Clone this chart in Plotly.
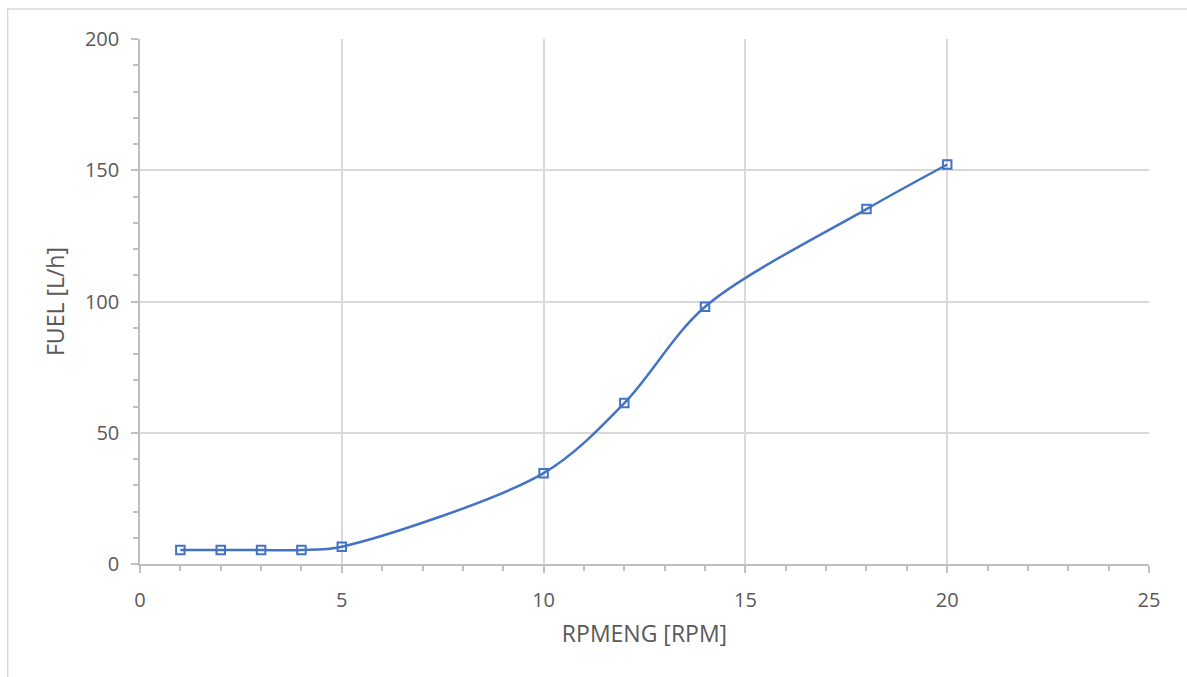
import plotly.graph_objects as go

rpm = [1, 2, 3, 4, 5, 10, 12, 14, 18, 20]
fuel = [5.3, 5.3, 5.3, 5.3, 6.6, 34.6, 61.3, 98.0, 135.2, 152.2]

x_title = "RPMENG [RPM]"
y_title = "FUEL [L/h]"

blue = "#4472C4"
grid = "#D9D9D9"
axis = "#BFBFBF"
txt = "#595959"
font = "Open Sans"

fig = go.Figure()
fig.add_trace(go.Scatter(
    x=rpm, y=fuel, mode="lines+markers",
    line=dict(color=blue, width=2.5, shape="spline", smoothing=0.9),
    marker=dict(symbol="square-open", size=8.5, color=blue, line=dict(width=2, color=blue)),
    showlegend=False, hoverinfo="x+y",
))

fig.update_layout(
    width=1187, height=677,
    margin=dict(l=139.5, r=37.7, t=39, b=113),
    paper_bgcolor="white", plot_bgcolor="white",
    font=dict(family=font, size=20, color=txt),
    shapes=[dict(type="rect", xref="paper", yref="paper",
                 x0=-0.1312, x1=1.2, y0=-0.5, y1=1.0571,
                 line=dict(color=grid, width=1.5), layer="below")],
)
fig.update_xaxes(
    range=[0, 25], dtick=5, tick0=0,
    showgrid=True, gridcolor=grid, gridwidth=1.5,
    showline=True, linecolor=axis, linewidth=1.5,
    ticks="outside", ticklen=7, tickcolor=axis, tickwidth=1.5,
    minor=dict(dtick=1, ticks="outside", ticklen=5, tickcolor=axis, tickwidth=1.5, showgrid=False),
    zeroline=False, ticklabelstandoff=10,
    title=dict(text=x_title, font=dict(size=23, color=txt), standoff=14),
    fixedrange=True,
)
fig.update_yaxes(
    range=[0, 200], dtick=50, tick0=0,
    showgrid=True, gridcolor=grid, gridwidth=1.5,
    showline=True, linecolor=axis, linewidth=1.5,
    ticks="outside", ticklen=7, tickcolor=axis, tickwidth=1.5,
    minor=dict(dtick=10, ticks="outside", ticklen=5, tickcolor=axis, tickwidth=1.5, showgrid=False),
    zeroline=False, ticklabelstandoff=8,
    title=dict(text=y_title, font=dict(size=23, color=txt), standoff=14),
    fixedrange=True,
)

fig.write_html("out.html", config=dict(displayModeBar=False))
